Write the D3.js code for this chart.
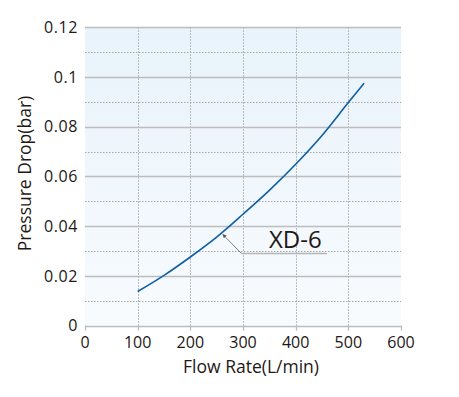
<!DOCTYPE html>
<html>
<head>
<meta charset="utf-8">
<script src="https://cdn.jsdelivr.net/npm/d3@7"></script>
<style>
  body { margin: 0; background: #fff; }
  text { font-family: "Open Sans", "Noto Sans", sans-serif; fill: #231815; }
</style>
</head>
<body>
<div id="chart"></div>
<script>
// flow rate (L/min) vs pressure drop (bar)
var flow = [100, 150, 200, 250, 300, 350, 400, 450, 500, 530];
var drop = [0.0137, 0.0202, 0.0276, 0.0356, 0.0448, 0.0544, 0.0649, 0.0765, 0.0897, 0.0975];
var xTicks = [0, 100, 200, 300, 400, 500, 600];
var yTicks = [0, 0.02, 0.04, 0.06, 0.08, 0.1, 0.12];
var yMinor = [0.01, 0.03, 0.05, 0.07, 0.09, 0.11];
var seriesName = "XD-6";

var width = 459, height = 397;
var pLeft = 85, pRight = 401, pTop = 27.3, pBottom = 325.6;

var svg = d3.select('#chart').append('svg')
            .attr('width', width).attr('height', height);

var x = d3.scaleLinear().domain([0, 600]).range([pLeft, pRight]);
var y = d3.scaleLinear().domain([0, 0.12]).range([pBottom, pTop]);

var defs = svg.append('defs');
var grad = defs.append('linearGradient')
              .attr('id', 'bg').attr('x1', 0).attr('y1', 0).attr('x2', 0).attr('y2', 1);
grad.append('stop').attr('offset', '0%').attr('stop-color', '#e8f3fb');
grad.append('stop').attr('offset', '100%').attr('stop-color', '#f8fbfe');

svg.append('rect').attr('x', pLeft).attr('y', pTop)
   .attr('width', pRight - pLeft).attr('height', pBottom - pTop)
   .attr('fill', 'url(#bg)');

// minor dotted rows
svg.append('g').selectAll('line').data(yMinor).enter().append('line')
   .attr('x1', pLeft).attr('x2', pRight)
   .attr('y1', function(d){ return Math.round(y(d)) + 0.5; })
   .attr('y2', function(d){ return Math.round(y(d)) + 0.5; })
   .attr('stroke', '#a8a8a8').attr('stroke-width', 1).attr('stroke-dasharray', '1.5,1.5');

// vertical dotted columns
svg.append('g').selectAll('line').data(xTicks.slice(1, -1)).enter().append('line')
   .attr('x1', function(d){ return Math.round(x(d)) + 0.5; })
   .attr('x2', function(d){ return Math.round(x(d)) + 0.5; })
   .attr('y1', pTop).attr('y2', pBottom)
   .attr('stroke', '#a8a8a8').attr('stroke-width', 1).attr('stroke-dasharray', '1.5,1.5');

// major solid rows
svg.append('g').selectAll('line').data(yTicks).enter().append('line')
   .attr('x1', pLeft).attr('x2', pRight)
   .attr('y1', function(d){ return Math.round(y(d)) + 0.5; })
   .attr('y2', function(d){ return Math.round(y(d)) + 0.5; })
   .attr('stroke', '#bdbdbd').attr('stroke-width', 1.3);

// x axis ticks
svg.append('g').selectAll('line').data(xTicks).enter().append('line')
   .attr('x1', function(d){ return Math.round(x(d)) + 0.5; })
   .attr('x2', function(d){ return Math.round(x(d)) + 0.5; })
   .attr('y1', pBottom).attr('y2', pBottom + 5)
   .attr('stroke', '#bdbdbd').attr('stroke-width', 1.3);

svg.append('g').selectAll('text').data(xTicks).enter().append('text')
   .attr('x', function(d){ return x(d); }).attr('y', pBottom + 22)
   .attr('text-anchor', 'middle').style('font-size', '16px')
   .text(function(d){ return d; });

svg.append('g').selectAll('text').data(yTicks).enter().append('text')
   .attr('x', pLeft - 7).attr('y', function(d){ return y(d) + 5.7; })
   .attr('text-anchor', 'end').style('font-size', '16px').style('letter-spacing', '0.6px')
   .text(function(d){ return d === 0 ? '0' : String(d); });

svg.append('text').attr('x', 251).attr('y', 373)
   .attr('text-anchor', 'middle').style('font-size', '17.5px')
   .text('Flow Rate(L/min)');

svg.append('text').attr('transform', 'translate(31,173.5) rotate(-90)')
   .attr('text-anchor', 'middle').style('font-size', '17.5px')
   .text('Pressure Drop(bar)');

var pts = flow.map(function(f, i){ return [f, drop[i]]; });
var line = d3.line().x(function(d){ return x(d[0]); }).y(function(d){ return y(d[1]); })
             .curve(d3.curveMonotoneX);

svg.append('path').datum(pts).attr('d', line)
   .attr('fill', 'none').attr('stroke', '#0f5fa6').attr('stroke-width', 1.6);

// label with leader line
var tipQ = 260;
var tip = [x(tipQ), y(d3.interpolateNumber(drop[3], drop[4])((tipQ - flow[3]) / 50))];
var elbow = [241, 253];
defs.append('marker').attr('id', 'arr')
   .attr('viewBox', '0 0 6 6').attr('refX', 5).attr('refY', 3)
   .attr('markerWidth', 5).attr('markerHeight', 5).attr('orient', 'auto')
   .append('path').attr('d', 'M0,0 L6,3 L0,6 Z').attr('fill', '#555');
svg.append('line').attr('x1', elbow[0]).attr('y1', elbow[1])
   .attr('x2', tip[0] + 1).attr('y2', tip[1] + 2)
   .attr('stroke', '#666').attr('stroke-width', 0.8).attr('marker-end', 'url(#arr)');
svg.append('line').attr('x1', elbow[0]).attr('y1', elbow[1] + 0.5)
   .attr('x2', 327).attr('y2', elbow[1] + 0.5)
   .attr('stroke', '#b5b5b5').attr('stroke-width', 1.6);
svg.append('text').attr('x', 269).attr('y', 248)
   .style('font-size', '24px').text(seriesName);
</script>
</body>
</html>
